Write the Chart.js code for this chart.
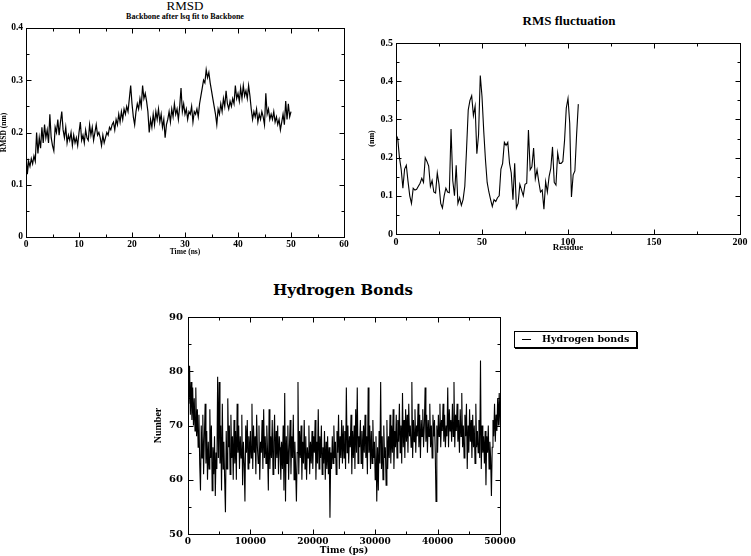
<!DOCTYPE html>
<html><head><meta charset="utf-8">
<script src="https://cdn.jsdelivr.net/npm/chart.js@4.4.1/dist/chart.umd.min.js"></script>
<style>
html,body{margin:0;padding:0;background:#fff;}
body{width:751px;height:556px;position:relative;overflow:hidden;}
canvas{position:absolute;}
.t{position:absolute;white-space:nowrap;color:#000;line-height:1;text-align:center;width:240px;}
#legend{position:absolute;left:514px;top:331px;width:123px;height:17px;box-sizing:border-box;border:1px solid #000;box-shadow:1px 1px 0 #000;background:#fff;}
#legend .ln{position:absolute;left:7px;top:7px;width:9px;height:1px;background:#000;}
#legend .tx{position:absolute;left:27px;top:2px;font:bold 9.5px 'DejaVu Serif',serif;line-height:1;white-space:nowrap;}
</style></head><body>
<div class="t" style="left:65px;top:-1px;font:13px 'Liberation Serif',serif;line-height:1;">RMSD</div>
<div class="t" style="left:65px;top:13px;font:bold 8px 'Liberation Serif',serif;line-height:1;">Backbone after lsq fit to Backbone</div>
<div class="t" style="left:449px;top:14px;font:bold 13px 'Liberation Serif',serif;line-height:1;">RMS fluctuation</div>
<div class="t" style="left:223px;top:283px;font:bold 15px 'DejaVu Serif',serif;line-height:1;">Hydrogen Bonds</div>
<canvas id="c1" width="360" height="260" style="left:0;top:0;"></canvas>
<canvas id="c2" width="391" height="260" style="left:360px;top:0;"></canvas>
<canvas id="c3" width="370" height="276" style="left:150px;top:280px;"></canvas>
<div id="legend"><span class="ln"></span><span class="tx">Hydrogen bonds</span></div>
<script>
// ---------- DATA ----------
// RMSD (nm), sampled every 0.25 ns from 0 to 50 ns
const rmsdTimeStepNs = 0.25;
const rmsdValues = [
0.17,0.12,0.145,0.135,0.15,0.14,0.155,0.145,0.2,
0.16,0.19,0.17,0.21,0.18,0.215,0.19,0.205,
0.18,0.235,0.19,0.175,0.165,0.21,0.2,0.225,
0.195,0.22,0.24,0.205,0.19,0.21,0.18,0.195,
0.185,0.2,0.175,0.195,0.18,0.19,0.175,0.2,
0.22,0.185,0.195,0.18,0.205,0.19,0.185,0.215,
0.195,0.21,0.185,0.2,0.215,0.195,0.2,0.19,
0.175,0.195,0.18,0.19,0.2,0.195,0.21,0.205,
0.215,0.22,0.205,0.225,0.215,0.235,0.22,0.24,
0.225,0.245,0.235,0.25,0.24,0.265,0.29,0.255,
0.23,0.215,0.24,0.255,0.245,0.265,0.25,0.29,
0.265,0.275,0.26,0.24,0.2,0.225,0.21,0.235,
0.215,0.24,0.225,0.245,0.22,0.235,0.21,0.225,
0.19,0.215,0.225,0.24,0.22,0.245,0.23,0.255,
0.235,0.245,0.225,0.25,0.285,0.24,0.255,0.235,
0.245,0.225,0.24,0.235,0.25,0.22,0.24,0.235,
0.245,0.23,0.255,0.27,0.285,0.3,0.295,0.32,
0.305,0.315,0.295,0.28,0.265,0.25,0.235,0.215,
0.245,0.235,0.255,0.24,0.265,0.25,0.28,0.255,
0.245,0.26,0.25,0.265,0.255,0.29,0.265,0.275,
0.26,0.285,0.265,0.29,0.27,0.28,0.265,0.29,
0.27,0.245,0.225,0.24,0.23,0.245,0.22,0.235,
0.225,0.24,0.23,0.215,0.275,0.235,0.245,0.225,
0.235,0.225,0.24,0.22,0.23,0.215,0.225,0.205,
0.22,0.235,0.215,0.26,0.225,0.255,0.23,0.24
];
// RMS fluctuation (nm) per residue 0..106
const rmsfValues = [
0.26,0.25,0.2,0.17,0.12,0.17,0.18,0.137,0.1,0.08,
0.12,0.115,0.117,0.125,0.133,0.146,0.135,0.2,0.19,0.178,
0.125,0.14,0.11,0.107,0.16,0.13,0.08,0.068,0.1,0.12,
0.11,0.108,0.275,0.14,0.1,0.18,0.08,0.095,0.075,0.09,
0.125,0.22,0.325,0.35,0.362,0.31,0.335,0.21,0.26,0.415,
0.36,0.27,0.195,0.135,0.11,0.09,0.072,0.09,0.085,0.095,
0.1,0.17,0.185,0.24,0.232,0.24,0.185,0.16,0.09,0.185,
0.068,0.08,0.13,0.115,0.1,0.13,0.133,0.272,0.168,0.176,
0.225,0.145,0.168,0.137,0.11,0.115,0.065,0.137,0.11,0.15,
0.172,0.228,0.135,0.128,0.212,0.185,0.185,0.19,0.245,0.33,
0.355,0.29,0.097,0.155,0.165,0.26,0.34
];
// Hydrogen bonds count, sampled every 125 ps from 0 to 50000 ps
const hbondTimeStepPs = 125;
const hbondValues = [
80,74,81,72,78,71,77,70,75,69,77,68,73,66,72,63,58,70,64,72,
61,68,74,63,69,60,67,62,73,64,70,58,66,61,68,57,65,62,79,64,
78,63,70,58,74,62,67,60,54,69,62,75,66,70,61,72,64,68,60,71,
63,69,60,74,65,70,62,68,64,72,59,67,63,56,70,65,71,62,68,63,
69,64,74,62,70,65,68,61,72,66,63,70,60,67,65,71,62,73,64,68,
63,70,65,58,73,62,68,64,71,61,67,72,62,69,64,70,61,68,66,60,
67,62,70,58,76,56,68,63,70,60,66,71,61,68,64,72,60,67,62,56,
65,78,61,69,64,70,60,67,63,71,62,68,60,66,64,70,61,67,63,69,
62,68,65,71,60,67,63,73,62,68,64,70,61,66,63,69,60,67,62,68,
61,66,53,65,62,68,63,70,64,67,61,69,65,72,62,68,64,71,63,70,
64,69,62,77,65,70,63,68,66,72,61,69,64,70,62,73,65,77,63,68,
66,71,63,69,62,70,65,72,64,68,61,77,65,70,62,69,63,71,64,67,
60,68,56,66,58,69,63,78,62,68,60,70,64,66,59,71,62,68,64,72,
63,70,65,73,62,69,66,72,64,71,67,74,65,70,63,76,66,71,64,73,
67,72,65,74,68,70,66,78,64,71,67,73,65,70,68,74,66,72,64,71,
68,73,66,70,77,67,72,65,71,68,74,66,70,64,72,68,71,65,56,70,
65,72,68,74,66,71,69,74,67,72,66,70,68,77,66,73,69,71,67,74,
68,78,66,72,69,74,67,71,65,73,68,76,66,70,64,72,68,74,62,70,
65,73,67,71,64,72,66,70,63,74,66,69,65,71,64,82,62,70,65,68,
63,69,59,68,65,70,62,67,64,57,66,71,68,74,67,72,69,75,70,76,
70
];
// Axis tick definitions
const rmsdXTicks = [0,10,20,30,40,50,60];
const rmsdYTicks = [0,0.1,0.2,0.3,0.4];
const rmsfXTicks = [0,50,100,150,200];
const rmsfYTicks = [0,0.1,0.2,0.3,0.4,0.5];
const hbondXTicks = [0,10000,20000,30000,40000,50000];
const hbondYTicks = [50,60,70,80,90];

// ---------- PLUGIN: boxed frame with inward major/minor ticks ----------
const boxTicks = {
  id: 'boxTicks',
  afterDatasetsDraw(chart, args, o) {
    const ctx = chart.ctx, a = chart.chartArea, xs = chart.scales.x, ys = chart.scales.y;
    ctx.save();
    ctx.strokeStyle = '#000';
    ctx.lineWidth = 1;
    const L = Math.round(a.left) + 0.5, R = Math.round(a.right) + 0.5,
          T = Math.round(a.top) + 0.5, B = Math.round(a.bottom) + 0.5;
    ctx.strokeRect(L, T, R - L, B - T);
    ctx.beginPath();
    const mark = (scale, step, len, horiz) => {
      const n = Math.round((scale.max - scale.min) / step);
      for (let i = 0; i <= n; i++) {
        const p = Math.round(scale.getPixelForValue(scale.min + i * step)) + 0.5;
        if (horiz) { ctx.moveTo(p, B); ctx.lineTo(p, B - len); ctx.moveTo(p, T); ctx.lineTo(p, T + len); }
        else { ctx.moveTo(L, p); ctx.lineTo(L + len, p); ctx.moveTo(R, p); ctx.lineTo(R - len, p); }
      }
    };
    mark(xs, o.xMajor, 5, true); mark(xs, o.xMinor, 3, true);
    mark(ys, o.yMajor, 5, false); mark(ys, o.yMinor, 3, false);
    ctx.stroke();
    ctx.restore();
  }
};

function axis(ticksArr, font, title, titleFont, fit, fmt, pad, isX) {
  return {
    type: 'linear',
    min: ticksArr[0], max: ticksArr[ticksArr.length - 1],
    ticks: { stepSize: ticksArr[1] - ticksArr[0], font: font, color: '#000', padding: pad,
             maxRotation: 0, autoSkip: false, callback: fmt },
    grid: { display: false, drawTicks: false },
    border: { display: false },
    title: { display: true, text: title, font: titleFont, color: '#000', padding: 0 },
    afterFit: s => { if (isX) s.height = fit; else s.width = fit; }
  };
}

function build(id, points, xAxis, yAxis, pad, tk, lw) {
  return new Chart(document.getElementById(id), {
    type: 'line',
    data: { datasets: [{ data: points, borderColor: '#000', borderWidth: lw, pointRadius: 0,
                         tension: 0, fill: false }] },
    options: {
      responsive: false, animation: false, events: [],
      layout: { padding: pad },
      plugins: { legend: { display: false }, tooltip: { enabled: false }, boxTicks: tk },
      scales: { x: xAxis, y: yAxis }
    },
    plugins: [boxTicks]
  });
}

const serifTop = "'Liberation Serif', serif";
const serifBot = "'DejaVu Serif', serif";
const f1 = v => (v === 0 ? '0' : Number(v).toFixed(1));
const fInt = v => String(Math.round(v));

// RMSD
build('c1',
  rmsdValues.map((v, i) => ({ x: i * rmsdTimeStepNs, y: v })),
  axis(rmsdXTicks, { family: serifTop, size: 9.5, weight: 'bold' }, 'Time (ns)',
       { family: serifTop, size: 7.5, weight: 'bold' }, 20, fInt, 2, true),
  axis(rmsdYTicks, { family: serifTop, size: 9.5, weight: 'bold' }, 'RMSD (nm)',
       { family: serifTop, size: 7.5, weight: 'bold' }, 26, f1, 3, false),
  { left: 0, top: 28, right: 16, bottom: 3 },
  { xMajor: 10, xMinor: 5, yMajor: 0.1, yMinor: 0.05 }, 1.2);

// RMSF
build('c2',
  rmsfValues.map((v, i) => ({ x: i, y: v })),
  axis(rmsfXTicks, { family: serifTop, size: 10, weight: 'bold' }, 'Residue',
       { family: serifTop, size: 9, weight: 'bold' }, 19, fInt, 2, true),
  axis(rmsfYTicks, { family: serifTop, size: 10, weight: 'bold' }, '(nm)',
       { family: serifTop, size: 8, weight: 'bold' }, 29, f1, 3, false),
  { left: 7, top: 43, right: 11, bottom: 7 },
  { xMajor: 50, xMinor: 25, yMajor: 0.1, yMinor: 0.05 }, 1.1);

// Hydrogen bonds
build('c3',
  hbondValues.map((v, i) => ({ x: i * hbondTimeStepPs, y: v })),
  axis(hbondXTicks, { family: serifBot, size: 9, weight: 'bold' }, 'Time (ps)',
       { family: serifBot, size: 9, weight: 'bold' }, 22, fInt, 2, true),
  axis(hbondYTicks, { family: serifBot, size: 10, weight: 'bold' }, 'Number',
       { family: "'Liberation Serif', serif", size: 10, weight: 'bold' }, 36, fInt, 5, false),
  { left: 2, top: 37, right: 20, bottom: 0 },
  { xMajor: 10000, xMinor: 5000, yMajor: 10, yMinor: 5 }, 1.1);
</script>
</body></html>
